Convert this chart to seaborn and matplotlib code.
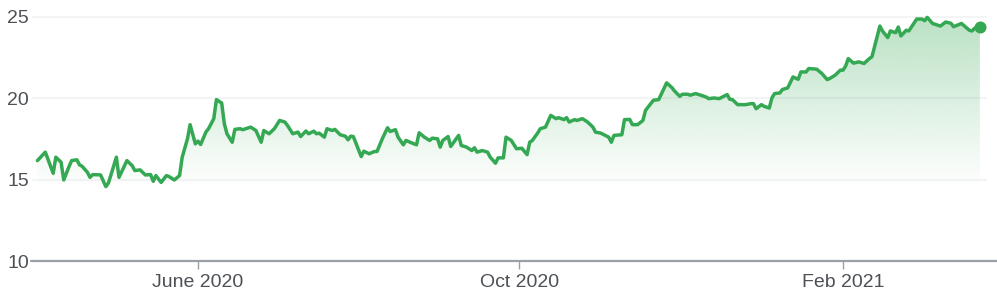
import numpy as np
import pandas as pd
import matplotlib
matplotlib.use("Agg")
import matplotlib.pyplot as plt
import matplotlib.dates as mdates
import seaborn as sns

# ---------------- data ----------------
start_date = "2020-04-01"
day_offset = [
    0, 3, 6, 7, 9, 10, 12, 13, 15, 16, 17, 19, 20, 21, 24, 26, 27, 30, 31, 34,
    36, 37, 39, 41, 43, 44, 45, 47, 49, 50, 52,
    54, 55, 57, 58, 60, 61, 62, 64, 65, 67, 68, 70, 71, 72, 74, 75, 77, 78, 81,
    83, 85, 86, 88, 90, 92, 94, 95, 97, 99, 100, 102, 103,
    105, 106, 107, 109, 110, 112, 113, 115, 117, 118, 119, 120, 123, 124, 126,
    128, 129, 131, 133, 134, 136, 137, 139, 140, 142, 144, 145, 147, 149, 150,
    152, 153, 154,
    156, 157, 160, 161, 163, 165, 166, 167, 169, 171, 172, 174, 175, 177, 178,
    180, 182, 184, 186, 187, 188, 190, 191, 193, 195, 197, 198, 200, 201, 202,
    204, 205,
    207, 209, 211, 212, 214, 217, 218, 219, 222, 223, 225, 226, 228, 230, 231,
    234, 236, 239, 241, 242, 244, 245, 247, 248, 250, 252, 254, 255, 257,
    259, 262, 263, 264, 266, 269, 271, 272, 273, 275, 276, 278, 279, 280, 282,
    283, 285, 287, 289, 290, 292, 293, 296, 298, 300, 301, 303, 305, 306, 307,
    308, 310, 312, 314, 316, 317, 320, 321, 323, 324, 326, 327, 328, 330, 331,
    334, 336, 337, 338, 340, 343, 345, 347, 348, 351, 354, 355, 356, 358,
]
price = [
    16.17, 16.69, 15.39, 16.38, 16.07, 14.98, 15.80, 16.17, 16.22, 15.91, 15.82,
    15.45, 15.14, 15.31, 15.29, 14.57, 14.80, 16.38, 15.14, 16.17,
    15.86, 15.56, 15.60, 15.29, 15.31, 14.90, 15.25, 14.83, 15.25, 15.19, 14.98,
    15.25, 16.38, 17.51, 18.38, 17.20, 17.37, 17.16, 17.92, 18.13, 18.75, 19.92,
    19.71, 18.44, 17.82, 17.30, 18.09, 18.13, 18.07, 18.23,
    18.02, 17.30, 18.02, 17.82, 18.13, 18.64, 18.54, 18.33, 17.82, 17.92, 17.65,
    17.99, 17.82,
    17.98, 17.82, 17.86, 17.61, 18.13, 18.02, 18.09, 17.76, 17.67, 17.45, 17.67,
    17.65, 16.42, 16.75, 16.59,
    16.73, 16.73, 17.51, 18.19, 17.96, 18.07, 17.61, 17.14, 17.41, 17.27, 17.14,
    17.88, 17.61, 17.41, 17.55, 17.51, 17.00, 17.41,
    17.65, 17.04, 17.72, 17.10, 17.00, 16.79, 16.96, 16.69, 16.79, 16.69, 16.38,
    16.01, 16.34, 16.34, 17.61,
    17.41, 16.90, 16.93, 16.54, 17.30, 17.41, 17.86, 18.13, 18.23, 18.95, 18.75,
    18.81, 18.69, 18.81, 18.54, 18.69, 18.64,
    18.75, 18.54, 18.23, 17.92, 17.86, 17.61, 17.30, 17.72, 17.76, 18.69, 18.70,
    18.38, 18.38, 18.64, 19.26,
    19.88, 19.92, 20.95, 20.66, 20.45, 20.12, 20.25, 20.25, 20.19, 20.29, 20.19,
    20.08, 19.98, 20.02,
    19.98, 20.23, 19.94, 19.92, 19.61, 19.61, 19.67, 19.67, 19.36, 19.61, 19.51,
    19.40, 20.02, 20.29, 20.33,
    20.54, 20.64, 21.31, 21.17, 21.62, 21.62, 21.83, 21.79, 21.52, 21.15, 21.22,
    21.42, 21.73, 21.73, 21.98,
    22.44, 22.16, 22.24, 22.14, 22.44, 22.55, 24.44, 24.14, 23.73, 24.14, 24.03,
    24.38, 23.83, 24.18, 24.14,
    24.87, 24.87, 24.77, 24.97, 24.60, 24.44, 24.69, 24.61, 24.40, 24.60, 24.18,
    24.14, 24.31, 24.38,
]
tick_dates = ["2020-06-01", "2020-10-01", "2021-02-01"]
tick_labels = ["June 2020", "Oct 2020", "Feb 2021"]
y_ticks = [10, 15, 20, 25]

# ---------------- style ----------------
GREEN = "#34a853"
TEXT = "#4d5156"
AXIS = "#9aa0a6"
GRID = "#f1f3f4"

sns.set_theme(style="white")
plt.rcParams["font.family"] = ["Liberation Sans", "DejaVu Sans"]

df = pd.DataFrame({
    "date": pd.Timestamp(start_date) + pd.to_timedelta(day_offset, unit="D"),
    "price": price,
})

fig = plt.figure(figsize=(9.97, 3.0), dpi=100)
ax = fig.add_axes([32 / 997, 39 / 300, (987 - 32) / 997, 253 / 300])

# gradient fill under the line
fill_floor = 14.2
poly = ax.fill_between(df["date"], df["price"], fill_floor,
                       facecolor="none", edgecolor="none")
x0 = mdates.date2num(df["date"].iloc[0])
x1 = mdates.date2num(df["date"].iloc[-1])
vals = np.linspace(fill_floor, 25.5, 256)
alpha = np.clip((vals - 14.5) / (25 - 14.5), 0, 1) * 0.34
rgb = matplotlib.colors.to_rgb(GREEN)
rgba = np.zeros((256, 1, 4))
rgba[..., 0], rgba[..., 1], rgba[..., 2] = rgb
rgba[..., 3] = alpha[:, None]
im = ax.imshow(rgba, extent=[x0, x1, fill_floor, 25.5], origin="lower",
               aspect="auto", zorder=1, interpolation="bilinear")
im.set_clip_path(poly.get_paths()[0], transform=ax.transData)

sns.lineplot(data=df, x="date", y="price", color=GREEN, linewidth=2.5,
             ax=ax, zorder=3)
last = df.iloc[-1]
ax.scatter([last["date"]], [last["price"]], s=75, color=GREEN, zorder=4,
           linewidths=0)

start = pd.Timestamp(start_date)
ax.set_xlim(start + pd.Timedelta(days=-2.05), start + pd.Timedelta(days=360.7))
ax.set_ylim(10, 25.55)
ax.set_aspect("auto")

ax.set_yticks(y_ticks)
ax.set_yticklabels([str(v) for v in y_ticks])
ax.set_xticks(pd.to_datetime(tick_dates))
ax.set_xticklabels(tick_labels)
ax.set_xlabel("")
ax.set_ylabel("")

ax.yaxis.grid(True, color=GRID, linewidth=1.3, zorder=0)
ax.xaxis.grid(False)
for s in ax.spines.values():
    s.set_visible(False)

ax.tick_params(axis="y", left=False, length=0, pad=2, labelsize=14,
               labelcolor=TEXT)
ax.tick_params(axis="x", bottom=True, length=6, width=1, color=AXIS, pad=3.5,
               labelsize=14, labelcolor=TEXT, direction="out")

ax.plot([-0.001, 1.0105], [0, 0], transform=ax.transAxes, color=AXIS,
        linewidth=1.6, clip_on=False, zorder=5)

fig.savefig("out.png", dpi=100)
